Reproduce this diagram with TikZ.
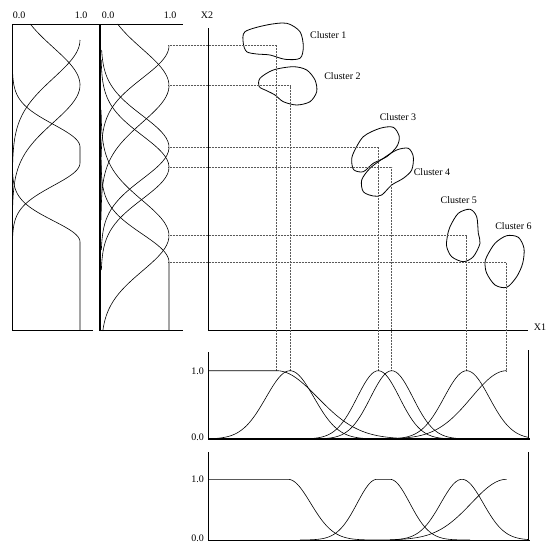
\documentclass[tikz,border=0pt]{standalone}
\usepackage{fontspec}
\setmainfont{Liberation Serif}
\begin{document}
\begin{tikzpicture}
  [x=1pt,y=-1pt,font=\fontsize{10}{12}\selectfont,
   axis/.style={line width=0.8pt},
   thickaxis/.style={line width=1.4pt},
   curve/.style={line width=0.6pt},
   blob/.style={line width=0.8pt},
   proj/.style={dash pattern=on 0.7pt off 0.8pt,line width=0.45pt,black!65},
   every node/.style={inner sep=0pt}]
  \useasboundingbox (0,0) rectangle (547,546);

  % main plane
  \draw[axis] (208,28) -- (208,330) -- (528,330);
  \node (x2) at (207,15) {X2};
  \node (x1) at (540,327) {X1};

  % clusters
  \draw[blob] plot[smooth cycle] coordinates {(245,31.7) (266.7,25) (286.7,23.3) (300,31.7) (303.3,46.7) (300,58.3) (285,59.3) (270,55) (256.7,54) (246.7,51.7) (243.3,43.3)};
  \draw[blob] plot[smooth cycle] coordinates {(260,78.3) (273.3,70) (293.3,66.7) (306.7,70) (315,80) (316.7,91.7) (310,101.7) (296.7,105) (283.3,101.7) (275,95) (266.7,90.7) (259.3,86.7)};
  \draw[blob] plot[smooth cycle] coordinates {(353.3,153.3) (363.3,136.7) (380,128.3) (393.3,127.3) (399.3,136.7) (396.7,146.7) (386.7,156.7) (373.3,163.3) (363.3,171.7) (354,170) (351.7,161.7)};
  \draw[blob] plot[smooth cycle] coordinates {(361.7,180) (370,168.3) (383.3,158.3) (396.7,150) (408.3,148.3) (413.3,156.7) (411.7,170) (403.3,178.3) (391.7,185) (381.7,195) (373.3,196) (363.3,191.7)};
  \draw[blob] plot[smooth cycle] coordinates {(450,226.7) (458.3,213.3) (470,209.3) (476.7,216.7) (478.3,233.3) (480,243.3) (473.3,256.7) (463.3,261.7) (451.7,256.7) (446.7,246.7) (447.3,236.7)};
  \draw[blob] plot[smooth cycle] coordinates {(486.7,256.7) (495,243.3) (506.7,235.7) (518.3,237.3) (524,248.3) (522.7,263.3) (516.7,276.7) (506.7,287.3) (495,285) (486.7,273.3) (485,263.3)};

  \node (c1) at (328.3,35) {Cluster 1};
  \node (c2) at (342.5,76) {Cluster 2};
  \node (c3) at (398,117.3) {Cluster 3};
  \node (c4) at (432,172.3) {Cluster 4};
  \node (c5) at (458.8,200) {Cluster 5};
  \node (c6) at (513.5,226) {Cluster 6};

  % projections of the cluster centres
  \foreach \n/\px/\py in {1/276.7/45.7, 2/290/85.7, 3/378.3/147.3, 4/391.7/167.3, 5/466.7/235.7, 6/506.7/262.3} {
    \coordinate (h\n) at (168,\py);
    \coordinate (v\n) at (\px,370.7);
    \draw[proj] (h\n) -| (v\n);
  }

  % X1 memberships, one per cluster
  \draw[axis] (208,352) -- (208,439);
  \draw[axis] (528,350) -- (528,439);
  \draw[thickaxis] (208,439) -- (530,439);
  \node[anchor=east] (one1) at (204,371) {1.0};
  \node[anchor=east] (zero1) at (204,437) {0.0};
  \draw[curve] (208,370.7) -- (276.7,370.7)
    plot[domain=276.7:420,samples=60] (\x,{439-68.3*exp(-(((\x-276.7)/58)^2))});
  \foreach \cx/\sx/\lo/\hi in {290/34/215/370, 378.3/30/310/450, 391.7/30/320/460, 466.7/32/395/528}
    \draw[curve] plot[domain=\lo:\hi,samples=60] (\x,{439-68.3*exp(-(((\x-\cx)/\sx)^2))});
  \draw[curve] plot[domain=380:506.7,samples=60] (\x,{439-68.3*exp(-(((\x-506.7)/50)^2))});

  % X1 memberships after merging
  \draw[axis] (208,452) -- (208,540);
  \draw[axis] (528,452) -- (528,540);
  \draw[axis] (208,540) -- (530,540);
  \node[anchor=east] (one2) at (204,479) {1.0};
  \node[anchor=east] (zero2) at (204,538) {0.0};
  \draw[curve] (208,479.3) -- (288,479.3)
    plot[domain=288:400,samples=60] (\x,{540-60.7*exp(-(((\x-288)/32)^2))});
  \draw[curve] plot[domain=300:377,samples=50] (\x,{540-60.7*exp(-(((\x-377)/28)^2))})
    -- (390,479.3) plot[domain=390:470,samples=50] (\x,{540-60.7*exp(-(((\x-390)/28)^2))});
  \draw[curve] plot[domain=395:528,samples=60] (\x,{540-60.7*exp(-(((\x-462)/30)^2))});
  \draw[curve] plot[domain=390:506.7,samples=60] (\x,{540-60.7*exp(-(((\x-506.7)/50)^2))});

  % X2 memberships, one per cluster
  \draw[thickaxis] (100,24) -- (100,331);
  \draw[axis] (100,24) -- (183,24);
  \draw[axis] (100,330) -- (183,330);
  \node (zeroB) at (108,15) {0.0};
  \node (oneB) at (170,15) {1.0};
  \draw[curve] plot[variable=\t,domain=45.7:200,samples=60] ({101+68*exp(-(((\t-45.7)/46)^2))},\t);
  \foreach \cy/\sy/\lo/\hi in {85.7/52/24/220, 147.3/45/50/250, 167.3/45/60/270, 235.7/50/110/331}
    \draw[curve] plot[variable=\t,domain=\lo:\hi,samples=60] ({101+68*exp(-(((\t-\cy)/\sy)^2))},\t);
  \draw[curve] plot[variable=\t,domain=160:262.3,samples=50] ({101+68*exp(-(((\t-262.3)/40)^2))},\t)
    -- (169,330);

  % X2 memberships after merging
  \draw[axis] (12.3,24) -- (12.3,331);
  \draw[axis] (12.3,24) -- (99,24);
  \draw[axis] (12.3,330) -- (93,330);
  \node (zeroA) at (19,15) {0.0};
  \node (oneA) at (81,15) {1.0};
  \draw[curve] plot[variable=\t,domain=40:200,samples=60] ({12.3+67.7*exp(-(((\t-40)/54)^2))},\t);
  \draw[curve] plot[variable=\t,domain=24:220,samples=60] ({12.3+67.7*exp(-(((\t-85)/53)^2))},\t);
  \draw[curve] plot[variable=\t,domain=70:147,samples=50] ({12.3+67.7*exp(-(((\t-147)/32)^2))},\t)
    -- (80,163) plot[variable=\t,domain=163:250,samples=50] ({12.3+67.7*exp(-(((\t-163)/32)^2))},\t);
  \draw[curve] plot[variable=\t,domain=160:242,samples=50] ({12.3+67.7*exp(-(((\t-242)/30)^2))},\t)
    -- (80,330);
\end{tikzpicture}
\end{document}
